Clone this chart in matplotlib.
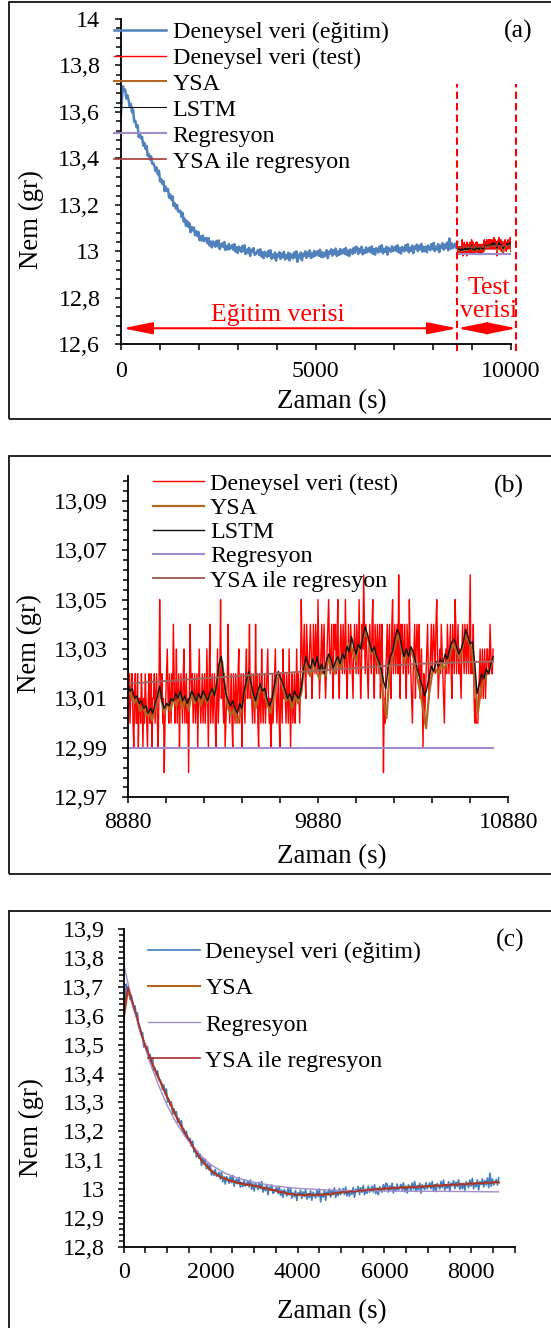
import numpy as np
import matplotlib
matplotlib.use('Agg')
from matplotlib import pyplot as plt
from matplotlib.ticker import MultipleLocator, FixedLocator, FuncFormatter
from matplotlib.patches import Rectangle

plt.rcParams['font.family'] = ['Liberation Serif', 'DejaVu Serif']

# training data (0 - 8630 s) (a) and (c)
train_end = 8630
train_nem = [
    13.575, 13.650, 13.710, 13.691, 13.696, 13.658, 13.672, 13.650, 13.623, 13.635,
    13.599, 13.610, 13.558, 13.562, 13.535, 13.542, 13.492, 13.505, 13.486, 13.493,
    13.455, 13.467, 13.441, 13.454, 13.411, 13.419, 13.395, 13.409, 13.378, 13.378,
    13.367, 13.345, 13.361, 13.331, 13.347, 13.301, 13.311, 13.290, 13.302, 13.259,
    13.278, 13.260, 13.268, 13.231, 13.245, 13.222, 13.237, 13.196, 13.207, 13.184,
    13.200, 13.171, 13.172, 13.175, 13.148, 13.166, 13.128, 13.140, 13.110, 13.131,
    13.106, 13.121, 13.082, 13.105, 13.090, 13.103, 13.070, 13.087, 13.066, 13.084,
    13.048, 13.064, 13.047, 13.068, 13.044, 13.050, 13.058, 13.035, 13.057, 13.025,
    13.042, 13.017, 13.043, 13.034, 13.020, 13.045, 13.022, 13.047, 13.010, 13.028,
    13.034, 13.018, 13.040, 13.006, 13.023, 13.008, 13.031, 13.010, 13.018, 13.027,
    13.007, 13.031, 12.999, 13.018, 12.993, 13.020, 13.011, 12.998, 13.023, 13.001,
    13.026, 12.989, 13.007, 12.994, 13.015, 12.980, 13.007, 12.997, 13.014, 12.985,
    12.989, 12.997, 13.006, 12.985, 13.009, 12.978, 12.996, 12.971, 12.998, 12.989,
    12.976, 13.002, 12.980, 13.005, 12.968, 12.986, 12.973, 12.995, 12.960, 12.987,
    12.978, 12.996, 12.968, 12.990, 12.975, 12.998, 12.965, 12.984, 12.970, 12.994,
    12.961, 12.989, 12.981, 12.969, 12.995, 12.974, 13.000, 12.955, 12.984, 12.972,
    12.995, 12.961, 12.990, 12.981, 13.000, 12.972, 12.995, 12.980, 13.004, 12.971,
    12.991, 12.977, 13.002, 12.981, 12.991, 13.001, 12.981, 13.007, 12.976, 12.995,
    12.975, 12.994, 12.982, 13.005, 12.971, 12.999, 12.991, 13.009, 12.981, 13.004,
    12.989, 13.012, 12.980, 12.999, 12.985, 13.010, 12.989, 12.999, 13.009, 12.989,
    13.015, 12.984, 13.003, 12.980, 13.008, 13.000, 12.989, 13.015, 12.994, 13.020,
    13.017, 12.989, 13.011, 12.997, 13.020, 12.987, 13.006, 12.993, 13.017, 12.996,
    13.005, 13.016, 12.996, 13.021, 12.990, 13.010, 12.986, 13.014, 13.006, 12.995,
    13.021, 13.000, 13.026, 12.991, 13.010, 12.998, 13.020, 12.986, 13.015, 13.006,
    12.998, 13.022, 13.001, 13.010, 13.021, 13.001, 13.026, 12.995, 13.015, 12.991,
    13.019, 13.011, 13.000, 13.026, 13.005, 13.031, 12.996, 13.015, 13.003, 13.025,
    12.992, 13.020, 13.011, 13.029, 13.001, 13.024, 13.009, 13.032, 12.999, 13.019,
    13.001, 13.020, 12.996, 13.025, 13.017, 13.005, 13.031, 13.010, 13.037, 13.001,
    13.020, 13.008, 13.031, 12.997, 13.025, 13.016, 13.035, 13.007, 13.029, 13.014,
    13.038, 13.005, 13.055, 13.010, 13.035, 13.014, 13.023, 13.033, 13.014, 13.039,
]

# model outputs on the training range, panel (c)
ysa_reg_train = [
    13.600, 13.700, 13.652, 13.603, 13.549, 13.498, 13.464, 13.424, 13.398, 13.360,
    13.331, 13.296, 13.268, 13.234, 13.212, 13.181, 13.160, 13.131, 13.112, 13.088,
    13.077, 13.058, 13.052, 13.040, 13.038, 13.028, 13.028, 13.020, 13.020, 13.014,
    13.016, 13.010, 13.010, 13.002, 13.003, 12.996, 12.997, 12.988, 12.990, 12.982,
    12.984, 12.978, 12.982, 12.977, 12.983, 12.978, 12.982, 12.978, 12.984, 12.980,
    12.986, 12.985, 12.990, 12.988, 12.993, 12.990, 12.995, 12.993, 12.998, 12.996,
    13.001, 12.998, 13.003, 13.000, 13.005, 13.002, 13.007, 13.003, 13.008, 13.005,
    13.010, 13.006, 13.011, 13.008, 13.013, 13.010, 13.015, 13.012, 13.016, 13.014,
    13.018, 13.015, 13.020, 13.017, 13.021, 13.019, 13.023, 13.020, 13.024, 13.022,
]
ysa_train = [
    13.590, 13.690, 13.646, 13.600, 13.545, 13.502, 13.458, 13.428, 13.392, 13.364,
    13.327, 13.300, 13.263, 13.238, 13.207, 13.185, 13.155, 13.135, 13.108, 13.092,
    13.073, 13.061, 13.049, 13.043, 13.035, 13.031, 13.025, 13.022, 13.017, 13.016,
    13.013, 13.011, 13.007, 13.004, 13.000, 12.998, 12.994, 12.990, 12.987, 12.984,
    12.982, 12.980, 12.979, 12.979, 12.980, 12.979, 12.980, 12.980, 12.981, 12.982,
    12.985, 12.987, 12.989, 12.990, 12.992, 12.993, 12.995, 12.995, 12.997, 12.998,
    12.999, 13.000, 13.002, 13.002, 13.004, 13.004, 13.005, 13.006, 13.007, 13.007,
    13.008, 13.009, 13.010, 13.010, 13.012, 13.012, 13.013, 13.014, 13.015, 13.015,
    13.016, 13.017, 13.018, 13.019, 13.020, 13.020, 13.021, 13.022, 13.023, 13.024,
]
reg_train_t = [0, 200, 400, 600, 800, 1000, 1200, 1400, 1600, 1800, 2000, 2300,
               2600, 3000, 3500, 4000, 4500, 5000, 6000, 7000, 8000, 8630]
reg_train = [13.78, 13.645, 13.535, 13.44, 13.36, 13.29, 13.232, 13.185, 13.146, 13.112,
             13.085, 13.057, 13.039, 13.023, 13.010, 13.002, 12.998, 12.995, 12.993,
             12.992, 12.991, 12.99]

# test data, panel (b): 8880 - 10800 s
test_start, test_end = 8880, 10800
test_nem = [
    13.03, 13.01, 13.02, 13.00, 13.01, 13.02, 13.02, 13.00, 12.99, 13.01, 13.02,
    13.00, 13.00, 13.02, 12.99, 13.01, 13.01, 13.00, 13.02, 13.01, 12.99,
    13.01, 13.00, 13.02, 13.01, 13.00, 12.99, 13.01, 13.02, 13.00, 13.00,
    13.02, 12.99, 13.01, 13.01, 13.02, 13.00, 13.01, 13.02, 13.00, 12.99,
    13.01, 13.05, 13.02, 13.01, 13.02, 13.00, 13.01, 12.98, 13.00, 13.01,
    13.02, 13.03, 13.01, 13.00, 13.02, 13.01, 13.00, 13.02, 13.01, 13.04,
    13.02, 13.00, 13.01, 13.03, 13.00, 13.01, 13.02, 12.99, 13.01, 13.02,
    13.01, 13.00, 13.02, 13.03, 13.00, 13.01, 13.02, 13.00, 13.01, 12.98,
    13.01, 13.04, 13.02, 13.01, 13.02, 13.00, 13.01, 13.02, 13.00, 13.01,
    13.02, 12.99, 13.01, 13.03, 13.01, 13.00, 13.01, 13.02, 13.00, 13.01,
    13.02, 13.00, 13.01, 13.03, 13.01, 12.99, 13.02, 13.04, 13.00, 13.01,
    13.02, 13.00, 13.01, 13.02, 13.00, 12.99, 13.01, 13.03, 13.00, 13.01,
    13.02, 13.05, 13.01, 13.02, 13.01, 13.00, 13.02, 12.99, 13.00, 13.01,
    13.02, 13.04, 13.01, 13.00, 13.01, 13.02, 13.00, 12.99, 13.02, 13.01,
    13.00, 13.02, 13.01, 13.00, 13.02, 13.03, 13.00, 13.01, 13.02, 12.99,
    13.01, 13.02, 13.01, 13.00, 13.02, 13.03, 13.01, 13.01, 13.02, 13.04,
    13.01, 13.02, 13.01, 13.00, 13.02, 13.01, 13.00, 13.04, 13.01, 13.02,
    13.00, 12.99, 13.02, 13.01, 13.00, 13.03, 13.01, 13.00, 13.01, 13.02,
    13.00, 13.01, 13.02, 13.03, 13.01, 13.00, 13.01, 12.99, 13.00, 13.02,
    13.00, 13.01, 13.02, 13.03, 13.01, 13.00, 13.01, 13.02, 13.00, 12.99,
    13.02, 13.01, 13.00, 13.03, 13.01, 13.02, 13.01, 13.00, 13.02, 13.01,
    13.00, 13.03, 13.01, 12.99, 13.01, 13.02, 13.00, 13.01, 13.02, 13.00,
    13.01, 13.03, 13.01, 13.02, 13.01, 13.00, 13.02, 13.05, 13.03, 13.02,
    13.03, 13.04, 13.02, 13.01, 13.04, 13.03, 13.02, 13.02, 13.03, 13.04,
    13.03, 13.01, 13.02, 13.04, 13.03, 13.02, 13.04, 13.03, 13.02, 13.05,
    13.03, 13.01, 13.02, 13.03, 13.04, 13.02, 13.03, 13.04, 13.02, 13.01,
    13.02, 13.03, 13.04, 13.05, 13.03, 13.02, 13.03, 13.04, 13.02, 13.01,
    13.04, 13.03, 13.04, 13.02, 13.03, 13.05, 13.02, 13.01, 13.03, 13.04,
    13.03, 13.02, 13.04, 13.03, 13.02, 13.05, 13.03, 13.01, 13.02, 13.04,
    13.03, 13.02, 13.04, 13.03, 13.02, 13.01, 13.03, 13.04, 13.03, 13.02,
    13.04, 13.03, 13.02, 13.05, 13.03, 13.01, 13.02, 13.04, 13.03, 13.06,
    13.04, 13.02, 13.04, 13.03, 13.02, 13.01, 13.03, 13.04, 13.03, 13.02,
    13.04, 13.05, 13.02, 13.01, 13.04, 13.03, 13.02, 13.04, 13.03, 13.02,
    13.04, 13.01, 13.03, 13.04, 13.02, 12.98, 13.01, 13.00, 13.02, 13.03,
    13.04, 13.02, 13.03, 13.04, 13.02, 13.01, 13.04, 13.05, 13.02, 13.03,
    13.04, 13.02, 13.03, 13.04, 13.02, 13.06, 13.03, 13.01, 13.04, 13.03,
    13.04, 13.02, 13.03, 13.04, 13.02, 13.01, 13.04, 13.03, 13.02, 13.05,
    13.03, 13.02, 13.01, 13.00, 13.02, 13.03, 13.04, 13.01, 13.03, 13.04,
    13.03, 13.02, 13.04, 13.01, 13.02, 13.03, 13.01, 12.99, 13.02, 13.00,
    13.01, 13.02, 13.03, 13.04, 13.02, 13.01, 13.02, 13.03, 13.04, 13.02,
    13.03, 13.04, 13.03, 13.02, 13.04, 13.05, 13.03, 13.01, 13.02, 13.03,
    13.02, 13.04, 13.03, 13.02, 13.01, 13.00, 13.02, 13.03, 13.02, 13.04,
    13.03, 13.02, 13.03, 13.04, 13.02, 13.01, 13.04, 13.03, 13.02, 13.05,
    13.04, 13.02, 13.03, 13.04, 13.02, 13.03, 13.02, 13.01, 13.03, 13.04,
    13.03, 13.02, 13.04, 13.03, 13.02, 13.04, 13.03, 13.02, 13.04, 13.06,
    13.02, 13.03, 13.02, 13.04, 13.01, 13.00, 13.01, 13.00, 13.00, 13.00,
    13.01, 13.02, 13.03, 13.01, 13.02, 13.03, 13.01, 13.02, 13.03, 13.01,
    13.02, 13.03, 13.03, 13.02, 13.02, 13.04, 13.03, 13.02, 13.02, 13.03,
]
lstm_test = [
    13.016, 13.013, 13.014, 13.010, 13.011, 13.008, 13.009, 13.006, 13.007, 13.004,
    13.006, 13.004, 13.008, 13.011, 13.015, 13.009, 13.006, 13.008, 13.007, 13.010,
    13.009, 13.012, 13.010, 13.013, 13.009, 13.011, 13.008, 13.010, 13.013, 13.011,
    13.009, 13.012, 13.010, 13.013, 13.011, 13.009, 13.012, 13.014, 13.011, 13.016,
    13.024, 13.027, 13.018, 13.012, 13.009, 13.007, 13.009, 13.006, 13.004, 13.008,
    13.006, 13.013, 13.017, 13.021, 13.016, 13.012, 13.009, 13.013, 13.016, 13.013,
    13.014, 13.010, 13.007, 13.009, 13.014, 13.019, 13.021, 13.018, 13.016, 13.013,
    13.010, 13.012, 13.009, 13.013, 13.011, 13.010, 13.014, 13.022, 13.027, 13.024,
    13.022, 13.026, 13.023, 13.027, 13.021, 13.024, 13.020, 13.025, 13.028, 13.026,
    13.022, 13.025, 13.027, 13.024, 13.028, 13.026, 13.031, 13.029, 13.035, 13.031,
    13.028, 13.032, 13.030, 13.035, 13.039, 13.036, 13.032, 13.029, 13.031, 13.027,
    13.025, 13.022, 13.017, 13.014, 13.022, 13.027, 13.029, 13.034, 13.038, 13.036,
    13.031, 13.027, 13.030, 13.027, 13.031, 13.029, 13.025, 13.021, 13.018, 13.015,
    13.011, 13.014, 13.019, 13.023, 13.021, 13.025, 13.023, 13.026, 13.024, 13.028,
    13.026, 13.030, 13.033, 13.034, 13.031, 13.028, 13.030, 13.033, 13.038, 13.035,
    13.032, 13.033, 13.024, 13.012, 13.016, 13.020, 13.018, 13.022, 13.020, 13.024,
    13.027,
]
ysa_test = [
    13.014, 13.011, 13.008, 13.010, 13.005, 13.007, 13.003, 13.005, 13.001, 13.006,
    13.013, 13.010, 13.004, 13.008, 13.005, 13.010, 13.007, 13.012, 13.006, 13.010,
    13.005, 13.012, 13.008, 13.011, 13.007, 13.012, 13.008, 13.011, 13.013, 13.015,
    13.022, 13.025, 13.014, 13.006, 13.003, 13.006, 13.000, 13.004, 13.010, 13.016,
    13.020, 13.011, 13.006, 13.012, 13.015, 13.011, 13.007, 13.004, 13.012, 13.018,
    13.019, 13.014, 13.009, 13.011, 13.006, 13.011, 13.008, 13.012, 13.024, 13.022,
    13.019, 13.025, 13.021, 13.018, 13.023, 13.019, 13.027, 13.023, 13.020, 13.026,
    13.022, 13.027, 13.029, 13.033, 13.028, 13.025, 13.031, 13.033, 13.037, 13.034,
    13.028, 13.030, 13.025, 13.021, 13.010, 13.002, 13.020, 13.027, 13.033, 13.036,
    13.029, 13.025, 13.028, 13.030, 13.026, 13.019, 13.013, 13.006, 12.998, 13.012,
    13.020, 13.022, 13.020, 13.024, 13.022, 13.025, 13.029, 13.032, 13.029, 13.026,
    13.031, 13.036, 13.033, 13.030, 13.018, 13.004, 13.014, 13.017, 13.020, 13.022,
    13.026,
]
reg_test_t = [8880, 10800]
reg_test = [12.99, 12.99]
ysa_reg_test_t = [8880, 9260, 9640, 10020, 10400, 10800]
ysa_reg_test = [13.016, 13.018, 13.020, 13.022, 13.024, 13.025]

# in panel (a) the test block is drawn right after the training block
test_a_start, test_a_end = 8630, 10080
split_t = 8630
test_edge_t = 10135

c_blue_a = '#4F81BD'
c_blue_c = '#3F7CC3'
c_red = '#FF0000'
c_ysa = '#B3641E'
c_lstm = '#111111'
c_reg = '#A18CCB'

W, H = 551, 1328
FS = 17.3


def comma(v, pos):
    return ('%g' % round(v, 3)).replace('.', ',')


def px_axes(fig, left, right, top, bottom):
    return fig.add_axes([left / W, 1 - bottom / H, (right - left) / W, (bottom - top) / H])


def style_axis(ax, ypad, xpad):
    for s in ['top', 'right']:
        ax.spines[s].set_visible(False)
    for s in ['left', 'bottom']:
        ax.spines[s].set_linewidth(1.3)
    ax.tick_params(which='both', direction='out', width=1.1, labelsize=FS, color='black')
    ax.tick_params(which='major', length=4.5)
    ax.tick_params(axis='y', which='minor', length=3.5)
    ax.tick_params(axis='x', which='minor', length=4.5)
    ax.tick_params(axis='y', pad=ypad)
    ax.tick_params(axis='x', pad=xpad)
    ax.yaxis.set_major_formatter(FuncFormatter(comma))


def labels(ax, yx, yy, xx, xy):
    ax.set_ylabel('Nem (gr)', fontsize=19.4, ha='center', va='center')
    ax.yaxis.set_label_coords(yx, yy)
    ax.set_xlabel('Zaman (s)', fontsize=19.4, ha='center', va='center')
    ax.xaxis.set_label_coords(xx, xy)


def legend(ax, x, y, spacing, textpad):
    ax.legend(loc='upper left', bbox_to_anchor=(x, y), frameon=False, fontsize=FS,
              handlelength=2.15, handletextpad=textpad, labelspacing=spacing,
              borderpad=0, borderaxespad=0)


fig = plt.figure(figsize=(W / 100, H / 100), dpi=100)

for top, bottom in [(1.5, 419.3), (455.7, 874), (910.7, 1340)]:
    fig.add_artist(Rectangle((8.5 / W, 1 - bottom / H), (W + 20) / W, (bottom - top) / H,
                             transform=fig.transFigure, fill=False, lw=1.2, ec='black'))

t_train = np.linspace(0, train_end, len(train_nem))
t_model_train = np.linspace(0, train_end, len(ysa_train))
t_test = np.linspace(test_start, test_end, len(test_nem))
t_lstm = np.linspace(test_start, test_end, len(lstm_test))
t_ysa = np.linspace(test_start, test_end, len(ysa_test))
scale_a = (test_a_end - test_a_start) / (test_end - test_start)

# ---------------- (a)
ax = px_axes(fig, 120.7, 510.7, 19, 344.3)
ax.plot(t_train, train_nem, color=c_blue_a, lw=1.8, label='Deneysel veri (eğitim)')
ax.plot(test_a_start + (t_test - test_start) * scale_a, test_nem, color=c_red, lw=1.0,
        label='Deneysel veri (test)')
ax.plot(test_a_start + (t_ysa - test_start) * scale_a, ysa_test, color=c_ysa, lw=1.4, label='YSA')
ax.plot(test_a_start + (t_lstm - test_start) * scale_a, lstm_test, color=c_lstm, lw=0.8, label='LSTM')
ax.plot([test_a_start + (t - test_start) * scale_a for t in reg_test_t], reg_test,
        color=c_reg, lw=1.5, label='Regresyon')
ax.plot([test_a_start + (t - test_start) * scale_a for t in ysa_reg_test_t], ysa_reg_test,
        color='#A83A35', lw=1.2, label='YSA ile regresyon')
ax.set_xlim(0, 10000)
ax.set_ylim(12.6, 14)
ax.xaxis.set_major_locator(MultipleLocator(5000))
ax.xaxis.set_minor_locator(MultipleLocator(1000))
ax.yaxis.set_major_locator(MultipleLocator(0.2))
ax.yaxis.set_minor_locator(MultipleLocator(0.04))
style_axis(ax, 10.2, 7.5)
labels(ax, -0.229, 0.382, 0.542, -0.176)
ax.vlines([split_t, test_edge_t], 12.572, 13.72, colors='red', lw=1.5,
          linestyles=(0, (3.5, 2)), clip_on=False)
arrow = dict(arrowstyle='<|-|>,head_length=1.8,head_width=0.36', color='red', lw=1.5,
             shrinkA=0, shrinkB=0, mutation_scale=10)
ax.annotate('', xy=(50, 12.669), xytext=(split_t, 12.669), arrowprops=arrow, annotation_clip=False)
ax.annotate('', xy=(split_t, 12.669), xytext=(10154, 12.669), arrowprops=arrow, annotation_clip=False)
ax.text(4023, 12.726, 'Eğitim verisi', color='red', fontsize=18.5, ha='center', va='center')
ax.text(9428, 12.792, 'Test\nverisi', color='red', fontsize=18.5, ha='center', va='center',
        linespacing=1.08)
ax.text(1.019, 0.961, '(a)', transform=ax.transAxes, fontsize=18.5, ha='center', va='center')
legend(ax, -0.017, 0.993, 0.17, 0.29)

# ---------------- (b)
ax = px_axes(fig, 127.7, 508.3, 476, 797.3)
ax.plot(t_test, test_nem, color=c_red, lw=1.0, label='Deneysel veri (test)')
ax.plot(t_ysa, ysa_test, color=c_ysa, lw=1.6, label='YSA')
ax.plot(t_lstm, lstm_test, color=c_lstm, lw=1.0, label='LSTM')
ax.plot(reg_test_t, reg_test, color=c_reg, lw=1.5, label='Regresyon')
ax.plot(ysa_reg_test_t, ysa_reg_test, color='#A6615C', lw=1.4, label='YSA ile regresyon')
ax.set_xlim(8880, 10880)
ax.set_ylim(12.97, 13.1)
ax.xaxis.set_major_locator(FixedLocator([8880, 9880, 10880]))
ax.xaxis.set_minor_locator(FixedLocator(np.arange(8880, 10881, 200)))
ax.yaxis.set_major_locator(FixedLocator(np.arange(12.97, 13.095, 0.02)))
ax.yaxis.set_minor_locator(FixedLocator(np.arange(12.97, 13.0995, 0.004)))
style_axis(ax, 9.8, 6.2)
labels(ax, -0.257, 0.480, 0.537, -0.185)
ax.text(1.001, 0.967, '(b)', transform=ax.transAxes, fontsize=18.5, ha='center', va='center')
legend(ax, 0.066, 1.0097, 0.10, 0.23)

# ---------------- (c)
ax = px_axes(fig, 123.7, 514.8, 929.3, 1246.7)
ax.plot(t_train, train_nem, color=c_blue_c, lw=1.2, label='Deneysel veri (eğitim)')
ax.plot(t_model_train, ysa_train, color=c_ysa, lw=1.5, label='YSA')
ax.plot(reg_train_t, reg_train, color=c_reg, lw=1.0, label='Regresyon')
ax.plot(t_model_train, ysa_reg_train, color='#A8302C', lw=1.2, label='YSA ile regresyon')
ax.set_xlim(0, 9000)
ax.set_ylim(12.8, 13.9)
ax.xaxis.set_major_locator(MultipleLocator(2000))
ax.xaxis.set_minor_locator(MultipleLocator(500))
ax.yaxis.set_major_locator(MultipleLocator(0.1))
ax.yaxis.set_minor_locator(MultipleLocator(0.02))
style_axis(ax, 9.4, 6.2)
labels(ax, -0.2355, 0.374, 0.533, -0.205)
ax.text(0.988, 0.966, '(c)', transform=ax.transAxes, fontsize=18.5, ha='center', va='center')
legend(ax, 0.0629, 0.9622, 0.6, 0.23)

fig.savefig('out.png', dpi=100)
